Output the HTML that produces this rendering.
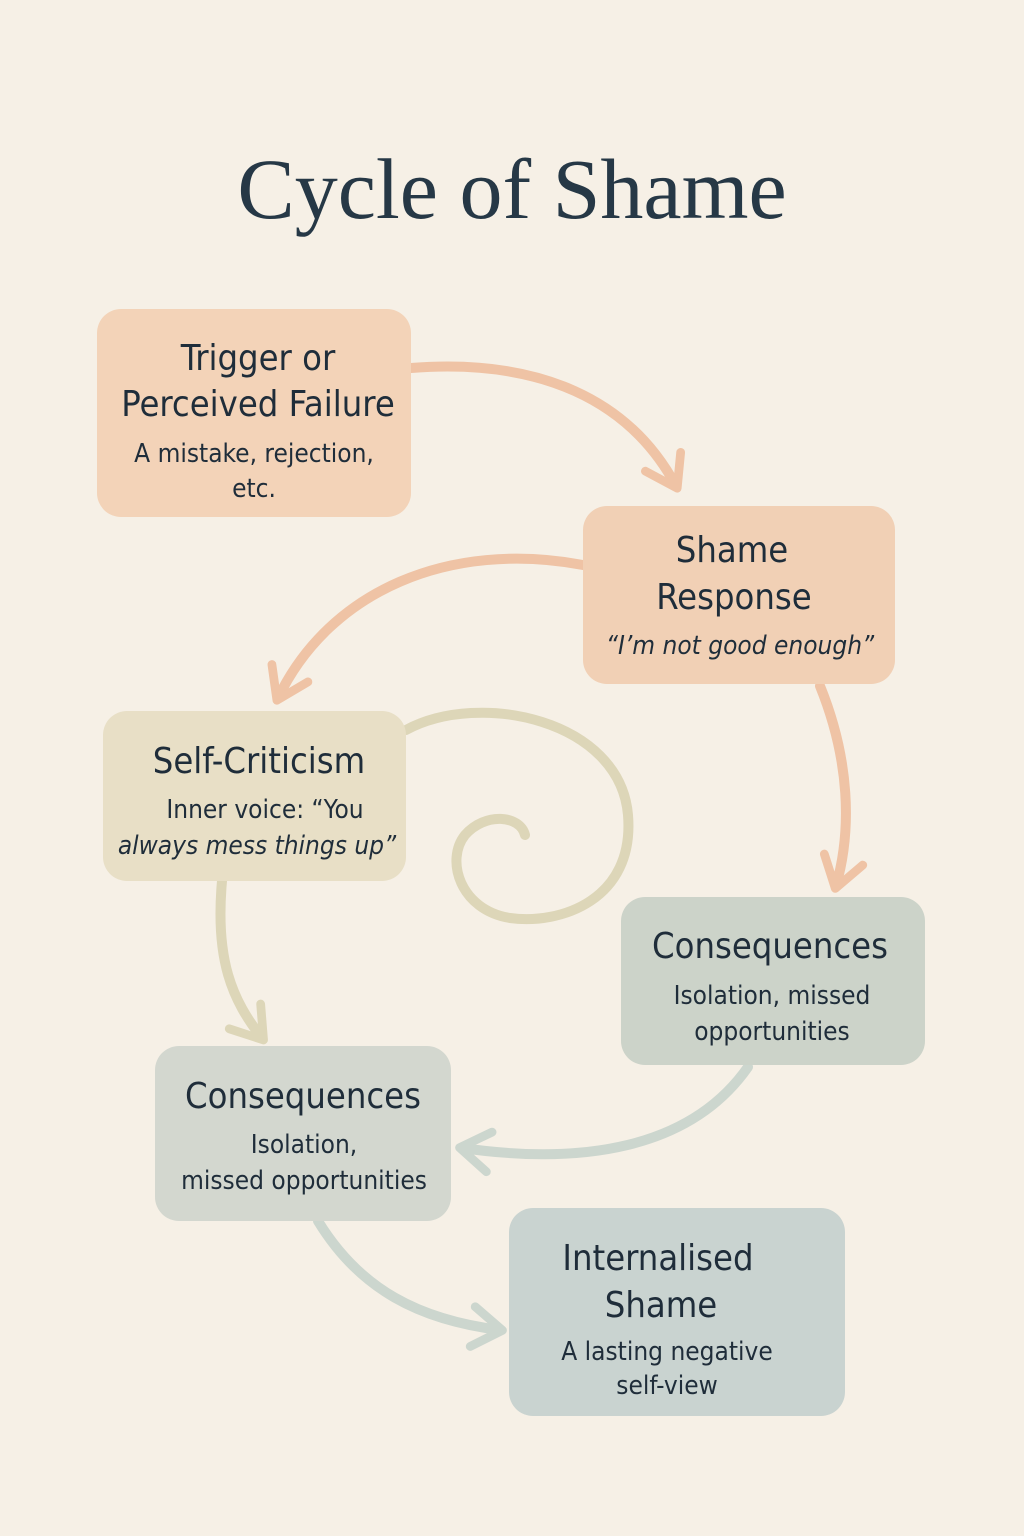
<!DOCTYPE html>
<html><head><meta charset="utf-8"><style>
html,body{margin:0;padding:0;background:#f6f0e6;}
svg{display:block}
text{font-family:"DejaVu Sans Condensed","Liberation Sans",sans-serif;fill:#1f2d3a;text-anchor:middle}
.h{font-size:36px}
.s{font-size:26px}
.i{font-style:italic}
</style></head><body>
<svg width="1024" height="1536" viewBox="0 0 1024 1536" xmlns="http://www.w3.org/2000/svg">
<defs>
<marker id="mo" viewBox="0 0 20 20" refX="14" refY="10" markerWidth="5" markerHeight="5" orient="auto" markerUnits="strokeWidth">
<path d="M3,2 L15,10 L3,18" fill="none" stroke="#efc3a5" stroke-width="3.5" stroke-linecap="round" stroke-linejoin="round"/></marker>
<marker id="mb" viewBox="0 0 20 20" refX="14" refY="10" markerWidth="5" markerHeight="5" orient="auto" markerUnits="strokeWidth">
<path d="M3,2 L15,10 L3,18" fill="none" stroke="#ddd6b8" stroke-width="3.5" stroke-linecap="round" stroke-linejoin="round"/></marker>
<marker id="mg" viewBox="0 0 20 20" refX="14" refY="10" markerWidth="5" markerHeight="5" orient="auto" markerUnits="strokeWidth">
<path d="M3,2 L15,10 L3,18" fill="none" stroke="#ccd6ce" stroke-width="3.5" stroke-linecap="round" stroke-linejoin="round"/></marker>
</defs>
<rect width="1024" height="1536" fill="#f6f0e6"/>
<text x="512" y="218" style="font-family:'Liberation Serif',serif;font-size:86px;fill:#263846">Cycle of Shame</text>

<g fill="none" stroke-width="10" stroke-linecap="round">
<path d="M411,368 C540,358 630,400 676,486" stroke="#efc3a5" marker-end="url(#mo)"/>
<path d="M583,565 C450,540 330,590 278,698" stroke="#efc3a5" marker-end="url(#mo)"/>
<path d="M820,686 C850,760 852,830 836,886" stroke="#efc3a5" marker-end="url(#mo)"/>
<path d="M406,730 C480,690 620,720 628,815 C635,900 560,925 510,918 C460,910 445,860 465,835 C485,812 520,815 525,835" stroke="#ddd6b8"/>
<path d="M222,881 C215,960 232,1000 262,1038" stroke="#ddd6b8" marker-end="url(#mb)"/>
<path d="M748,1067 C690,1150 580,1165 462,1148" stroke="#ccd6ce" marker-end="url(#mg)"/>
<path d="M318,1221 C360,1290 420,1320 500,1330" stroke="#ccd6ce" marker-end="url(#mg)"/>
</g>

<rect x="97" y="309" width="314" height="208" rx="24" fill="#f3d3b8"/>
<text class="h" x="258" y="370">Trigger or</text>
<text class="h" x="258" y="416">Perceived Failure</text>
<text class="s" x="254" y="462">A mistake, rejection,</text>
<text class="s" x="254" y="497">etc.</text>

<rect x="583" y="506" width="312" height="178" rx="24" fill="#f1d0b5"/>
<text class="h" x="732" y="562">Shame</text>
<text class="h" x="734" y="609">Response</text>
<text class="s i" x="740" y="654">“I’m not good enough”</text>

<rect x="103" y="711" width="303" height="170" rx="24" fill="#e8dfc6"/>
<text class="h" x="259" y="773">Self-Criticism</text>
<text class="s" x="265" y="818">Inner voice: “You</text>
<text class="s i" x="257" y="854">always mess things up”</text>

<rect x="621" y="897" width="304" height="168" rx="24" fill="#ccd3c9"/>
<text class="h" x="770" y="958">Consequences</text>
<text class="s" x="772" y="1004">Isolation, missed</text>
<text class="s" x="772" y="1040">opportunities</text>

<rect x="155" y="1046" width="296" height="175" rx="24" fill="#d3d7cf"/>
<text class="h" x="303" y="1108">Consequences</text>
<text class="s" x="304" y="1153">Isolation,</text>
<text class="s" x="304" y="1189">missed opportunities</text>

<rect x="509" y="1208" width="336" height="208" rx="24" fill="#c9d3d0"/>
<text class="h" x="658" y="1270">Internalised</text>
<text class="h" x="661" y="1317">Shame</text>
<text class="s" x="667" y="1360">A lasting negative</text>
<text class="s" x="667" y="1394">self-view</text>
</svg>
</body></html>
